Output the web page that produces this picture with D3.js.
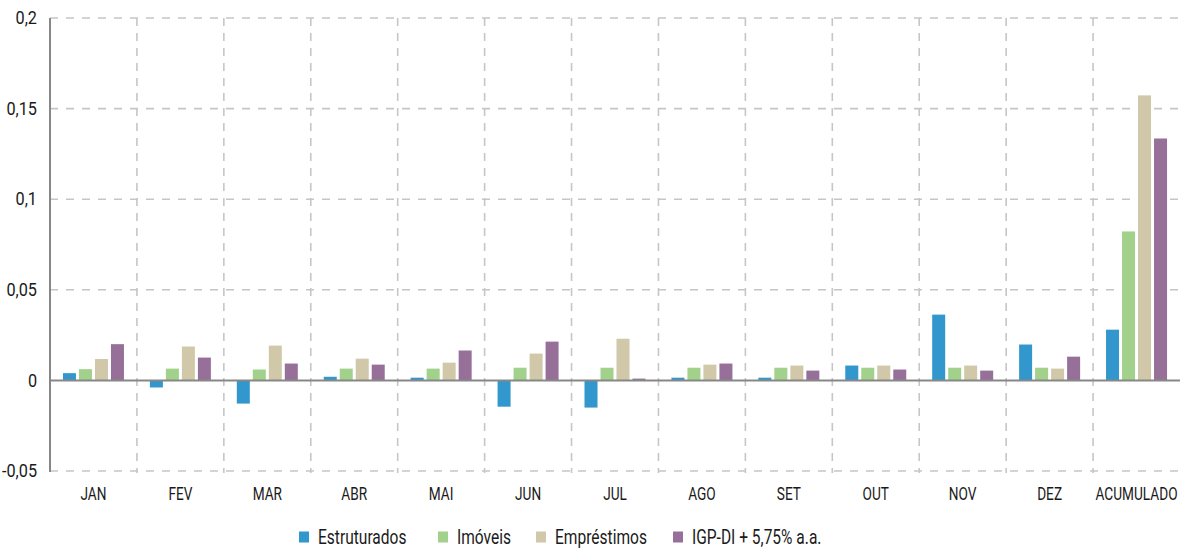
<!DOCTYPE html>
<html>
<head>
<meta charset="utf-8">
<script src="https://cdn.jsdelivr.net/npm/d3@7"></script>
<style>
  html, body { margin: 0; padding: 0; background: #fff; }
  svg { display: block; }
  text { font-family: "Roboto", "Liberation Sans", sans-serif; fill: #1a1a1a; }
</style>
</head>
<body>
<svg id="chart" width="1191" height="549"></svg>
<script>
// Monthly returns by segment, plus the accumulated total
const categories = ["JAN","FEV","MAR","ABR","MAI","JUN","JUL","AGO","SET","OUT","NOV","DEZ","ACUMULADO"];
const seriesNames = ["Estruturados","Imóveis","Empréstimos","IGP-DI + 5,75% a.a."];
const seriesColors = ["#3197cc","#a1d18b","#d0c8a8","#967099"];

const estruturados = [0.0040, -0.0039, -0.0128, 0.0020, 0.0015, -0.0145, -0.0150, 0.0015, 0.0015, 0.0082, 0.0363, 0.0198, 0.0280];
const imoveis      = [0.0062, 0.0065, 0.0060, 0.0065, 0.0065, 0.0070, 0.0070, 0.0070, 0.0070, 0.0070, 0.0070, 0.0070, 0.0822];
const emprestimos  = [0.0118, 0.0187, 0.0192, 0.0120, 0.0098, 0.0148, 0.0230, 0.0087, 0.0082, 0.0082, 0.0082, 0.0065, 0.1573];
const igpdi        = [0.0200, 0.0126, 0.0093, 0.0087, 0.0165, 0.0214, 0.0010, 0.0093, 0.0054, 0.0060, 0.0054, 0.0131, 0.1335];

const yTicks = [-0.05, 0, 0.05, 0.1, 0.15, 0.2];
const yTickLabels = ["-0,05", "0", "0,05", "0,1", "0,15", "0,2"];

const seriesValues = [estruturados, imoveis, emprestimos, igpdi];

// narrow lettering: text is squeezed horizontally
const FS = "17.5px";
const X_SX = 0.78;
const Y_SX = 0.93;
const LEG_SX = 0.74;
const LEG_FS = "21px";

const svg = d3.select("#chart");
const margin = { left: 50, right: 11, top: 18, bottom: 78 };
const W = 1191, H = 549;
const plotW = W - margin.left - margin.right;
const plotH = H - margin.top - margin.bottom;

const g = svg.append("g").attr("transform", `translate(${margin.left},${margin.top})`);

const x0 = d3.scaleBand().domain(categories).range([0, plotW]).padding(0);
const x1 = d3.scaleBand().domain(d3.range(seriesNames.length))
  .range([0, x0.bandwidth()]).paddingInner(0.1875).paddingOuter(0.81);
const y = d3.scaleLinear().domain([-0.05, 0.2]).range([plotH, 0]);

const gridColor = "#c6c6c6";

// horizontal dashed gridlines
g.append("g").selectAll("line").data(yTicks.filter(t => t !== 0)).join("line")
  .attr("x1", 0).attr("x2", plotW)
  .attr("y1", d => y(d)).attr("y2", d => y(d))
  .attr("stroke", gridColor).attr("stroke-width", 1.6)
  .attr("stroke-dasharray", "8,8");

// vertical dashed separators between categories
g.append("g").selectAll("line").data(categories.slice(1)).join("line")
  .attr("x1", d => x0(d)).attr("x2", d => x0(d))
  .attr("y1", 0).attr("y2", plotH + 2)
  .attr("stroke", gridColor).attr("stroke-width", 1.6)
  .attr("stroke-dasharray", "8,7");

// bars
const groups = g.append("g").selectAll("g").data(categories).join("g")
  .attr("transform", d => `translate(${x0(d)},0)`);

groups.selectAll("rect")
  .data((c, ci) => seriesValues.map((vals, si) => ({ si, v: vals[ci] })))
  .join("rect")
  .attr("x", d => x1(d.si))
  .attr("width", x1.bandwidth())
  .attr("y", d => y(Math.max(0, d.v)))
  .attr("height", d => Math.abs(y(d.v) - y(0)))
  .attr("fill", d => seriesColors[d.si]);

// zero line
g.append("line")
  .attr("x1", 0).attr("x2", plotW)
  .attr("y1", y(0)).attr("y2", y(0))
  .attr("stroke", "#878787").attr("stroke-width", 2);

// left axis line
g.append("line")
  .attr("x1", 0).attr("x2", 0)
  .attr("y1", y(0.2)).attr("y2", y(-0.05) + 1)
  .attr("stroke", "#878787").attr("stroke-width", 2);

// y-axis labels
const yAxis = d3.axisLeft(y).tickValues(yTicks)
  .tickFormat((d, i) => yTickLabels[i]).tickSize(0).tickPadding(13);
const ya = g.append("g").call(yAxis);
ya.select(".domain").remove();
ya.selectAll("text").style("font-size", FS)
  .attr("font-family", null).attr("fill", "#1a1a1a")
  .attr("x", -13 / Y_SX)
  .attr("transform", `scale(${Y_SX},1)`);

// x-axis labels
const xAxis = d3.axisBottom(x0).tickSize(0).tickPadding(17);
const xa = g.append("g").attr("transform", `translate(0,${plotH})`).call(xAxis);
xa.select(".domain").remove();
xa.selectAll("text").style("font-size", FS)
  .attr("font-family", null).attr("fill", "#1a1a1a")
  .attr("transform", `scale(${X_SX},1)`);

// legend
const legendX = [299, 438, 536, 673];
const legend = svg.append("g").attr("transform", "translate(0,537)");
const li = legend.selectAll("g").data(seriesNames).join("g")
  .attr("transform", (d, i) => `translate(${legendX[i]},0)`);
li.append("rect").attr("x", 0).attr("y", -5.5).attr("width", 10).attr("height", 11)
  .attr("fill", (d, i) => seriesColors[i]);
li.append("text").attr("transform", `translate(19,0) scale(${LEG_SX},1)`)
  .attr("dy", "0.35em")
  .style("font-size", LEG_FS).text(d => d);
</script>
</body>
</html>
